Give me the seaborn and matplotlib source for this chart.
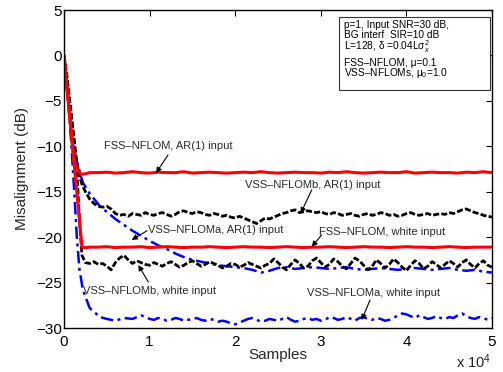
import numpy as np
import matplotlib
matplotlib.use("Agg")
import matplotlib.pyplot as plt
from matplotlib.patches import Rectangle
import seaborn as sns

# ---------------- data ----------------
# FSS-NFLOM, AR(1) input
fss_ar_x = [0, 1150, 1500, 2000, 2600, 3000] + list(range(4000, 50001, 1000))
fss_ar_y = [0, -11.5, -12.4, -13.1, -13.0, -12.9,
            -12.9, -12.85, -12.95, -12.9, -12.8, -12.9, -12.95, -12.85, -12.9, -12.9,
            -12.8, -12.95, -12.9, -12.85, -12.9, -12.95, -12.9, -12.85, -12.9, -12.8,
            -12.9, -12.95, -12.9, -12.85, -12.9, -12.9, -12.95, -12.85, -12.9, -12.8,
            -12.9, -12.95, -12.9, -12.85, -12.9, -12.9, -12.8, -12.95, -12.9, -12.85,
            -12.9, -12.9, -12.95, -12.85, -12.9, -12.8, -12.9]

# FSS-NFLOM, white input
fss_wh_x = [0, 2100, 2500, 3000] + list(range(4000, 50001, 1000))
fss_wh_y = [0, -21.1, -21.15, -21.1,
            -21.1, -21.05, -21.15, -21.1, -21.1, -21.05, -21.15, -21.1, -21.05, -21.1,
            -21.15, -21.1, -21.1, -21.05, -21.1, -21.15, -21.1, -21.05, -21.1, -21.1,
            -21.15, -21.1, -21.05, -21.1, -21.15, -21.1, -21.1, -21.05, -21.1, -21.15,
            -21.1, -21.05, -21.1, -21.1, -21.15, -21.1, -21.05, -21.1, -21.1, -21.15,
            -21.1, -21.05, -21.1, -21.15, -21.1, -21.1, -21.1]

early_x = [0, 300, 600, 900, 1200, 1500, 1800, 2100, 2500, 3000, 3500, 4000, 4500,
           5000, 5500, 6000, 6500, 7000, 7500, 8000, 8500, 9000, 9500]
late_x = list(range(10000, 50001, 500))

# VSS-NFLOMb, AR(1) input
vssb_ar_y_early = [0, -2, -4.5, -7, -9.5, -11.8, -13.2, -14.2, -15.0, -15.8, -16.3, -16.6,
                   -16.7, -16.6, -16.9, -17.4, -17.6, -17.5, -17.7, -17.4, -17.5, -17.6, -17.3]
vssb_ar_y_late = [-17.5, -17.6, -17.4, -17.3, -17.5, -17.7, -17.5, -17.2, -17.1, -17.3,
                  -17.4, -17.2, -17.3, -17.5, -17.6, -17.4, -17.5, -17.7, -17.6, -17.8,
                  -17.9, -17.7, -17.9, -18.1, -18.3, -18.5, -18.2, -17.9, -18.0, -17.8,
                  -17.6, -17.4, -17.3, -17.1, -17.0, -17.3, -17.2, -17.1, -17.2, -17.3,
                  -17.2, -17.4, -17.5, -17.3, -17.4, -17.6, -17.5, -17.4, -17.6, -17.7,
                  -17.5, -17.4, -17.6, -17.5, -17.3, -17.4, -17.6, -17.5, -17.7, -17.6,
                  -17.4, -17.3, -17.5, -17.6, -17.5, -17.4, -17.6, -17.5, -17.4, -17.5,
                  -17.3, -17.4, -17.2, -17.0, -16.9, -17.1, -17.3, -17.4, -17.6, -17.7, -17.8]

# VSS-NFLOMb, white input
vssb_wh_y_early = [0, -2, -4.5, -7, -9.5, -12.5, -18.0, -22.0, -22.8, -22.9, -22.7, -23.0,
                   -22.9, -23.2, -23.6, -22.8, -22.3, -22.0, -22.5, -22.9, -22.6, -22.8, -23.0]
vssb_wh_y_late = [-23.1, -22.8, -23.0, -23.2, -22.9, -22.7, -23.0, -23.3, -23.1, -22.8,
                  -22.6, -22.9, -23.2, -23.0, -22.7, -22.9, -23.1, -23.4, -23.2, -22.9,
                  -23.0, -23.3, -23.1, -22.8, -23.0, -23.2, -23.4, -23.1, -22.9, -22.4,
                  -22.8, -23.3, -23.6, -23.0, -22.5, -22.9, -23.4, -23.2, -22.6, -22.3,
                  -22.8, -23.3, -23.0, -22.4, -22.7, -23.2, -23.5, -22.9, -22.3, -22.6,
                  -23.1, -23.6, -23.2, -22.5, -22.9, -23.4, -23.0, -22.4, -22.8, -23.3,
                  -23.7, -23.1, -22.6, -22.9, -23.5, -23.2, -22.7, -23.0, -23.4, -23.0,
                  -22.6, -22.9, -23.3, -22.8, -22.5, -23.0, -23.4, -22.9, -22.6, -23.1, -23.3]

# VSS-NFLOMa, AR(1) input
vssa_ar_x = [0, 300, 700, 1200, 1600, 2200, 3000, 4200, 6000, 8000] + list(range(10000, 50001, 1000))
vssa_ar_y = [0, -3, -7, -10.5, -12.0, -14.0, -15.2, -16.6, -18.0, -19.3,
             -20.4, -20.9, -21.3, -21.8, -22.2, -22.5, -22.7, -22.9, -23.1, -23.2,
             -23.3, -23.4, -23.6, -23.9, -23.7, -23.4, -23.3, -23.5, -23.4, -23.3,
             -23.4, -23.5, -23.4, -23.3, -23.5, -23.6, -23.5, -23.4, -23.5, -23.6,
             -23.5, -23.4, -23.5, -23.6, -23.5, -23.4, -23.6, -23.7, -23.6, -23.8, -23.9]

# VSS-NFLOMa, white input
vssa_wh_x_early = [0, 400, 800, 1200, 1500, 1800, 2200, 3000, 4200, 5000, 6000, 7000, 8000, 9000]
vssa_wh_y_early = [0, -4, -9, -15, -20, -23.5, -25.8, -27.8, -28.8, -29.0, -29.2, -28.9, -29.0, -28.6]
vssa_wh_y_late = [-29.0, -29.1, -28.9, -29.0, -29.2, -29.1, -28.9, -29.0, -29.2, -29.1,
                  -29.0, -28.9, -29.1, -29.2, -29.0, -29.1, -29.3, -29.2, -29.3, -29.5,
                  -29.6, -29.4, -29.2, -29.0, -28.9, -29.1, -29.3, -29.2, -29.0, -29.1,
                  -29.2, -29.0, -28.8, -29.1, -29.3, -29.2, -29.0, -28.9, -29.1, -29.0,
                  -29.2, -29.1, -28.8, -28.9, -29.1, -29.0, -28.8, -29.0, -29.2, -28.9,
                  -28.8, -29.0, -29.1, -28.9, -29.0, -29.2, -29.1, -28.9, -28.6, -28.4,
                  -28.5, -28.7, -28.9, -28.6, -28.8, -29.0, -28.9, -28.7, -28.9, -29.0,
                  -28.8, -28.9, -28.6, -28.4, -28.7, -28.9, -29.0, -28.8, -28.9, -29.1, -28.9]

x_ticks = [0, 10000, 20000, 30000, 40000, 50000]
x_ticklabels = ["0", "1", "2", "3", "4", "5"]
y_ticks = [-30, -25, -20, -15, -10, -5, 0, 5]

# ---------------- style ----------------
sns.set_style("white")
plt.rcParams["font.family"] = ["Liberation Sans", "DejaVu Sans"]
plt.rcParams["mathtext.fontset"] = "custom"
plt.rcParams["mathtext.rm"] = "Liberation Sans"
plt.rcParams["mathtext.it"] = "Liberation Sans:italic"

W, H = 503, 372
fig = plt.figure(figsize=(W / 100, H / 100), dpi=100)
L, R, T, B = 64, 492, 10, 328
ax = fig.add_axes([L / W, 1 - B / H, (R - L) / W, (B - T) / H])


def draw(x, y, color, ls, lw):
    sns.lineplot(x=np.asarray(x, float), y=np.asarray(y, float), ax=ax, color=color,
                 linestyle=ls, linewidth=lw, sort=False, estimator=None, legend=False)


blue = "#0000ff"
dashdot = (0, (5, 1.8, 1.2, 1.8))
dashed = (0, (2.2, 0.8))
draw(vssa_wh_x_early + late_x, vssa_wh_y_early + vssa_wh_y_late, blue, dashdot, 1.8)
draw(vssa_ar_x, vssa_ar_y, blue, dashdot, 1.8)
draw(early_x + late_x, vssb_wh_y_early + vssb_wh_y_late, "black", dashed, 2.0)
draw(early_x + late_x, vssb_ar_y_early + vssb_ar_y_late, "black", dashed, 2.0)
draw(fss_wh_x, fss_wh_y, "#ff0000", "-", 2.2)
draw(fss_ar_x, fss_ar_y, "#ff0000", "-", 2.2)

ax.set_xlim(0, 50000)
ax.set_ylim(-30, 5)
ax.set_xticks(x_ticks)
ax.set_xticklabels(x_ticklabels)
ax.set_yticks(y_ticks)
ax.set_yticklabels([str(v).replace("-", "\u2212") for v in y_ticks])
ax.tick_params(axis="both", direction="in", length=4, width=0.8, labelsize=11,
               top=True, right=True, colors="black")
ax.tick_params(axis="x", pad=5)
ax.tick_params(axis="y", pad=1.5)
for s in ax.spines.values():
    s.set_color("black")
    s.set_linewidth(1.0)

ax.set_xlabel("Samples", fontsize=11, va="center")
ax.xaxis.set_label_coords(0.5, (B - 355) / (B - T))
ax.set_ylabel("Misalignment (dB)", fontsize=11, va="center", ha="center")
ax.yaxis.set_label_coords((22 - L) / (R - L), 0.5)
fig.text(474 / W, 1 - 362 / H, "x 10$^4$", fontsize=10.5, ha="center", va="center")

# annotations
tc = "#2a2a2a"
notes = [
    ("FSS\u2013NFLOM, AR(1) input", (12210, -9.97), (12150, -10.96), (10750, -12.94)),
    ("VSS\u2013NFLOMb, AR(1) input", (29030, -14.26), (28940, -14.81), (27650, -17.38)),
    ("VSS\u2013NFLOMa, AR(1) input", (17700, -19.21), (9700, -19.3), (7910, -20.3)),
    ("FSS\u2013NFLOM, white input", (37210, -19.4), (30100, -19.77), (28940, -21.05)),
    ("VSS\u2013NFLOMb, white input", (9930, -25.9), (9850, -24.94), (8680, -23.07)),
    ("VSS\u2013NFLOMa, white input", (36210, -26.2), (35750, -26.92), (34780, -29.12)),
]
for txt, pos, tail, tip in notes:
    ax.text(pos[0], pos[1], txt, fontsize=8, color=tc, ha="center", va="center")
    ax.annotate("", xy=tip, xytext=tail,
                arrowprops=dict(arrowstyle="-|>", color="black", lw=0.8,
                                mutation_scale=8, shrinkA=0, shrinkB=0))

# info box
fig.patches.append(Rectangle((339 / W, 1 - 90 / H), (490 - 339) / W, (90 - 17) / H,
                             transform=fig.transFigure, facecolor="white",
                             edgecolor="#333333", linewidth=0.8, zorder=5))
box_lines = [
    ("p=1, Input SNR=30 dB,", 25.0),
    ("BG interf  SIR=10 dB", 34.5),
    ("L=128, \u03b4 =0.04L\u03c3$_x^2$", 46.5),
    ("FSS\u2013NFLOM, \u03bc=0.1", 62.5),
    ("VSS\u2013NFLOMs, \u03bc$_0$=1.0", 73.5),
]
for txt, py in box_lines:
    fig.text(344 / W, 1 - py / H, txt, fontsize=7.3, ha="left", va="center",
             color="black", zorder=6)

fig.savefig("out.png", dpi=100)
